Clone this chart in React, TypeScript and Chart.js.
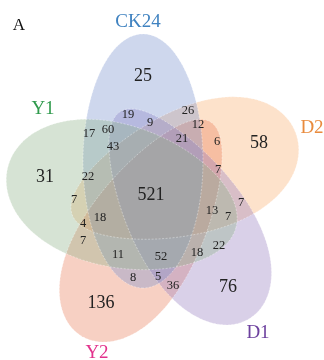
import { useEffect, useRef } from 'react';
import { Chart, registerables } from 'chart.js';

Chart.register(...registerables);

// Five sets
const setNames = ['CK24', 'Y1', 'D2', 'Y2', 'D1'];
const setFill = [
  'rgba(120,145,205,0.36)',
  'rgba(140,178,135,0.36)',
  'rgba(250,175,110,0.36)',
  'rgba(232,125,90,0.36)',
  'rgba(150,125,190,0.36)',
];
const setLabelColor = ['#3f82c0', '#2f9a4c', '#e98b3d', '#e2318c', '#6c409e'];

// Egg-shaped outline of each set (chart units): centre, half-length, half-width,
// rotation in degrees and how much the shape widens toward the +axis end
const shapeCx = [143, 122, 184, 146, 185];
const shapeCy = [161, 197, 174, 229, 215];
const shapeA = [127, 118, 119, 125, 122];
const shapeB = [60, 71, 62, 58, 58];
const shapeAngle = [90, 15, -20, -59, 58];
const shapeEgg = [0, -0.1, 0.22, -0.22, 0.22];
// painting order of the shapes
const paintOrder = [2, 3, 4, 0, 1];

// Set name label anchors
const setLabelX = [138, 43, 312, 97, 258];
const setLabelY = [22, 109, 128, 353, 333];

// Intersection counts
const regionCounts = [
  25, 31, 58, 136, 76, 521,
  19, 9, 26, 12, 21, 6, 17, 60, 43, 22, 7, 4, 7, 18,
  11, 52, 8, 5, 36, 18, 22, 13, 7, 7, 7,
];
// Label anchors of the counts
const regionX = [
  143, 45, 259, 101, 228, 151,
  128, 150, 188, 198, 182, 217, 89, 108, 113, 88, 74, 83, 83, 100,
  118, 161, 133, 158, 173, 197, 219, 212, 228, 241, 218,
];
const regionY = [
  76, 177, 143, 303, 287, 195,
  115, 123, 111, 125, 139, 142, 134, 130, 147, 177, 200, 224, 241, 218,
  255, 257, 278, 277, 286, 253, 246, 211, 217, 203, 170,
];
const bigRegions = 6;

const SERIF = '"Liberation Serif", "DejaVu Serif", serif';

function tracePath(chart: any, i: number) {
  const { ctx } = chart;
  const xs = chart.scales.x;
  const ys = chart.scales.y;
  const rot = (shapeAngle[i] * Math.PI) / 180;
  const cr = Math.cos(rot);
  const sr = Math.sin(rot);
  const steps = 180;
  ctx.beginPath();
  for (let s = 0; s <= steps; s++) {
    const t = (s / steps) * Math.PI * 2;
    const u = shapeA[i] * Math.cos(t);
    const v = shapeB[i] * Math.sin(t) * (1 + shapeEgg[i] * Math.cos(t));
    const x = shapeCx[i] + u * cr - v * sr;
    const y = shapeCy[i] + u * sr + v * cr;
    const px = xs.getPixelForValue(x);
    const py = ys.getPixelForValue(y);
    if (s === 0) ctx.moveTo(px, py);
    else ctx.lineTo(px, py);
  }
  ctx.closePath();
}

const vennPlugin = {
  id: 'vennShapes',
  beforeDatasetsDraw(chart: any) {
    const { ctx } = chart;
    ctx.save();
    for (const i of paintOrder) {
      tracePath(chart, i);
      ctx.fillStyle = setFill[i];
      ctx.fill();
    }
    ctx.setLineDash([2, 1.5]);
    ctx.lineWidth = 0.8;
    ctx.strokeStyle = 'rgba(255,255,255,0.45)';
    for (const i of paintOrder) {
      tracePath(chart, i);
      ctx.stroke();
    }
    ctx.restore();
  },
  afterDatasetsDraw(chart: any) {
    const { ctx } = chart;
    ctx.save();
    ctx.textAlign = 'center';
    ctx.textBaseline = 'middle';
    const counts = chart.getDatasetMeta(0).data;
    counts.forEach((pt: any, i: number) => {
      ctx.font = `${i < bigRegions ? 18 : 12.5}px ${SERIF}`;
      ctx.fillStyle = '#222222';
      ctx.fillText(String(regionCounts[i]), pt.x, pt.y);
    });
    const names = chart.getDatasetMeta(1).data;
    names.forEach((pt: any, i: number) => {
      ctx.font = `19px ${SERIF}`;
      ctx.fillStyle = setLabelColor[i];
      ctx.fillText(setNames[i], pt.x, pt.y);
    });
    ctx.font = `17px ${SERIF}`;
    ctx.fillStyle = '#111111';
    ctx.fillText('A', chart.scales.x.getPixelForValue(19), chart.scales.y.getPixelForValue(26));
    ctx.restore();
  },
};

export default function App() {
  const ref = useRef<HTMLCanvasElement | null>(null);
  useEffect(() => {
    document.body.style.margin = '0';
    if (!ref.current) return;
    const chart = new Chart(ref.current, {
      type: 'scatter',
      data: {
        datasets: [
          {
            label: 'counts',
            data: regionX.map((x, i) => ({ x, y: regionY[i] })),
            pointRadius: 0,
          },
          {
            label: 'sets',
            data: setLabelX.map((x, i) => ({ x, y: setLabelY[i] })),
            pointRadius: 0,
          },
        ],
      },
      options: {
        responsive: false,
        animation: false,
        layout: { padding: 0 },
        plugins: { legend: { display: false }, tooltip: { enabled: false } },
        scales: {
          x: { type: 'linear', min: 0, max: 324, display: false },
          y: { type: 'linear', min: 0, max: 360, reverse: true, display: false },
        },
      },
      plugins: [vennPlugin],
    });
    return () => chart.destroy();
  }, []);
  return <canvas ref={ref} width={324} height={360} style={{ display: 'block' }} />;
}
